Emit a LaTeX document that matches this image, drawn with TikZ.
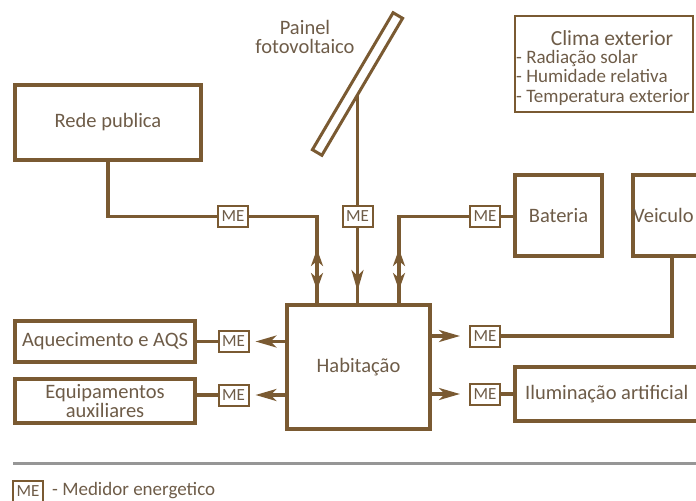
\documentclass[tikz,border=0pt]{standalone}
\usepackage{fontspec}
\setmainfont{Carlito}
\usetikzlibrary{arrows.meta,backgrounds}
\definecolor{brn}{RGB}{122,90,50}
\definecolor{txt}{RGB}{110,92,72}
\definecolor{rul}{RGB}{150,150,150}
\newcommand\flbl{\fontsize{20.5bp}{17.5bp}\selectfont}
\newcommand\fpnl{\fontsize{20.5bp}{18.5bp}\selectfont}
\newcommand\fttl{\fontsize{21.5bp}{22bp}\selectfont}
\newcommand\fsml{\fontsize{19bp}{19.5bp}\selectfont}
\newcommand\fme{\fontsize{17bp}{18bp}\selectfont}
\begin{document}
\begin{tikzpicture}[x=1bp,y=-1bp,
  box/.style={draw=brn,line width=4.5bp,fill=white,inner sep=0pt,text=txt,font=\flbl,align=center},
  me/.style={draw=brn,line width=2bp,fill=white,inner sep=0pt,minimum width=30bp,minimum height=21bp,text=txt,font=\fme},
  conn/.style={draw=brn,line width=3.4bp},
  arr/.style={conn,-{Stealth[length=21bp,width=12bp,inset=6bp]}},
  darr/.style={conn,{Stealth[length=17bp,width=12bp,inset=5bp]}-{Stealth[length=17bp,width=12bp,inset=5bp]}},
  lbl/.style={text=txt,font=\flbl,inner sep=0pt}]
\useasboundingbox (0,0) rectangle (696,501);
\clip (0,0) rectangle (696,501);

% boxes
\node[box,minimum width=186bp,minimum height=75bp] (rede) at (108,122.5) {Rede publica};
\node[box,minimum width=180bp,minimum height=41bp] (aquec) at (105,341.5) {Aquecimento e AQS};
\node[box,minimum width=180bp,minimum height=44bp] (equip) at (105,401) {Equipamentos\\auxiliares};
\node[box,minimum width=143bp,minimum height=124bp] (hab) at (358.5,367) {Habitação};
\node[box,minimum width=87bp,minimum height=81bp] (bat) at (558.5,215.5) {Bateria};
\node[box,minimum width=90bp,minimum height=81bp] (veic) at (678,215.5) {};
\node[lbl,anchor=west] (veict) at (633,215.5) {Veiculo};
\node[box,minimum width=200bp,minimum height=54bp] (ilum) at (615,394) {};
\node[lbl,anchor=west] (ilumt) at (525,394) {Iluminação artificial};

% climate box
\node[draw=brn,line width=2bp,minimum width=178bp,minimum height=96bp,inner sep=0pt] (clima) at (604,64) {};
\node[lbl,font=\fttl] (climat) at (612,38) {Clima exterior};
\node[lbl,font=\fsml,align=left,anchor=west] (climal) at (516,77.5) {- Radiação solar\\- Humidade relativa\\- Temperatura exterior};

% panel
\node[draw=brn,line width=3bp,fill=white,rotate=59.5,minimum width=159bp,minimum height=11bp,inner sep=0pt] (panel) at (357.5,84) {};
\node[lbl,font=\fpnl,align=center] (paint) at (305,37) {Painel\\fotovoltaico};

% meters
\node[me] (me1) at (233,216.5) {ME};
\node[me] (me2) at (357.5,216.5) {ME};
\node[me] (me3) at (485,216.5) {ME};
\node[me] (me4) at (233.5,341.5) {ME};
\node[me] (me5) at (233.5,395) {ME};
\node[me] (me6) at (485,336) {ME};
\node[me] (me7) at (485,394) {ME};

% connectors
\begin{pgfonlayer}{background}
\draw[conn] (panel.center) -- (me2.north);
\end{pgfonlayer}
\coordinate (j1) at (317,216.5);
\draw[conn] (rede.south) |- (me1.west);
\draw[conn] (me1.east) -- (j1) -- (j1 |- hab.north);
\draw[darr] (317,249) -- (317,290);

\coordinate (j3) at (399,216.5);
\draw[conn] (me3.west) -- (j3) -- (j3 |- hab.north);
\draw[conn] (me3.east) -- (bat.west |- me3);
\draw[darr] (399,249) -- (399,290);

\draw[conn] (me2.south) -- (me2.south |- hab.north);
\draw[arr] (357.5,265) -- (357.5,291);

\draw[conn] (aquec.east) -- (me4.west);
\draw[conn] (equip.east |- me5) -- (me5.west);
\draw[arr] (hab.west |- me4) -- ([xshift=6bp]me4.east);
\draw[arr] (hab.west |- me5) -- ([xshift=6bp]me5.east);

\draw[arr] (hab.east |- me6) -- ([xshift=-9bp]me6.west);
\draw[arr] (hab.east |- me7) -- ([xshift=-9bp]me7.west);
\coordinate (j6) at (672,336);
\draw[conn] (me6.east) -- (j6) -- (j6 |- veic.south);
\draw[conn] (me7.east) -- (ilum.west |- me7);

% legend
\draw[draw=rul,line width=3bp] (13,463) -- (696,463);
\node[me] (leg) at (28,491.5) {ME};
\node[lbl,font=\fsml,anchor=west] (legt) at (52,491) {- Medidor energetico};
\end{tikzpicture}
\end{document}
